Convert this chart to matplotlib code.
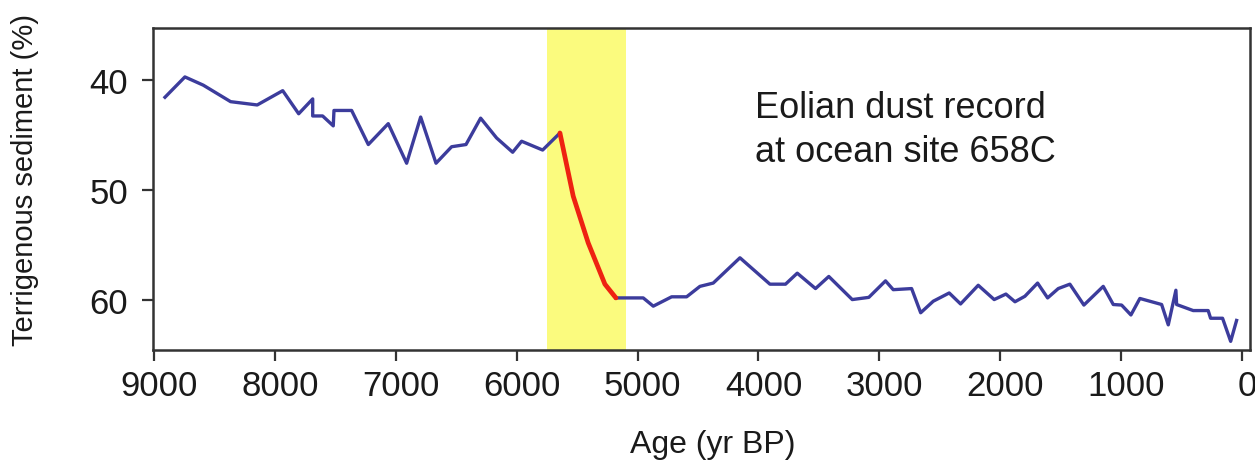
import matplotlib.pyplot as plt
from matplotlib.transforms import ScaledTranslation

plt.rcParams['font.family'] = ['Liberation Sans', 'DejaVu Sans']

# age (yr BP) and terrigenous sediment (%)
age = [8909, 8744, 8592, 8366, 8146, 7935, 7803, 7687, 7687, 7605, 7517, 7511,
       7365, 7227, 7062, 6910, 6794, 6667, 6538, 6419, 6298, 6166, 6033, 5959,
       5785, 5642]
sed = [41.6, 39.75, 40.5, 42.0, 42.3, 41.0, 43.1, 41.75, 43.3, 43.3, 44.2, 42.8,
       42.8, 45.9, 44.0, 47.6, 43.4, 47.6, 46.1, 45.9, 43.5, 45.3, 46.6, 45.6,
       46.4, 44.85]

# abrupt transition (red)
age_drop = [5642, 5532, 5408, 5270, 5179]
sed_drop = [44.85, 50.6, 54.85, 58.6, 59.85]

age_late = [5179, 4953, 4870, 4718, 4594, 4484, 4374, 4153, 3905, 3776, 3679,
            3528, 3418, 3224, 3087, 2949, 2885, 2733, 2658, 2554, 2422, 2328,
            2182, 2050, 1953, 1878, 1796, 1691, 1608, 1520, 1424, 1308, 1148,
            1065, 996, 919, 845, 665, 610, 547, 541, 404, 280, 260, 161, 94, 45]
sed_late = [59.85, 59.85, 60.6, 59.75, 59.75, 58.8, 58.5, 56.2, 58.6, 58.6, 57.6,
            59.0, 57.9, 60.0, 59.8, 58.3, 59.1, 59.0, 61.2, 60.15, 59.4, 60.4,
            58.7, 60.0, 59.5, 60.2, 59.7, 58.5, 59.85, 59.0, 58.6, 60.5, 58.8,
            60.45, 60.5, 61.4, 59.9, 60.45, 62.3, 59.15, 60.45, 61.0, 61.0, 61.7,
            61.7, 63.8, 61.9]

span = (5749, 5096)

fig = plt.figure(figsize=(12.55, 4.64), dpi=100)
ax = fig.add_axes([153/1255, 1 - 350.7/464, (1250-153)/1255, (350.7-29)/464])

ax.axvspan(span[0], span[1], color='#fbfb7e', lw=0, zorder=0)
blue = '#3c3c9c'
ax.plot(age, sed, color=blue, lw=2.4, zorder=2)
ax.plot(age_late, sed_late, color=blue, lw=2.4, zorder=2)
ax.plot(age_drop, sed_drop, color='#ee2211', lw=3.4, zorder=3, solid_capstyle='round')

ax.set_xlim(9008, -66)
ax.set_ylim(64.56, 35.3)
ax.set_xticks(range(9000, -1, -1000))
ax.set_yticks([40, 50, 60])

for s in ax.spines.values():
    s.set_color('#333333')
    s.set_linewidth(1.8)
ax.tick_params(direction='out', length=8, width=1.6, color='#333333',
               labelsize=25, labelcolor='#1a1a1a')
ax.tick_params(axis='x', pad=6)
ax.tick_params(axis='y', pad=10)

# tick labels sit a touch right of their ticks in the original
shift = ScaledTranslation(5/100, 0, fig.dpi_scale_trans)
for lab in ax.get_xticklabels():
    lab.set_transform(lab.get_transform() + shift)

ax.set_xlabel('Age (yr BP)', fontsize=23, color='#1a1a1a')
ax.xaxis.set_label_coords(0.51, -0.245)
ax.set_ylabel('Terrigenous sediment (%)', fontsize=21, color='#1a1a1a')
ax.yaxis.set_label_coords(-0.104, 0.53)

ax.text(4030, 40.9, 'Eolian dust record\nat ocean site 658C', fontsize=26,
        color='#1a1a1a', ha='left', va='top', linespacing=1.36)

fig.savefig('out.png', dpi=100)
